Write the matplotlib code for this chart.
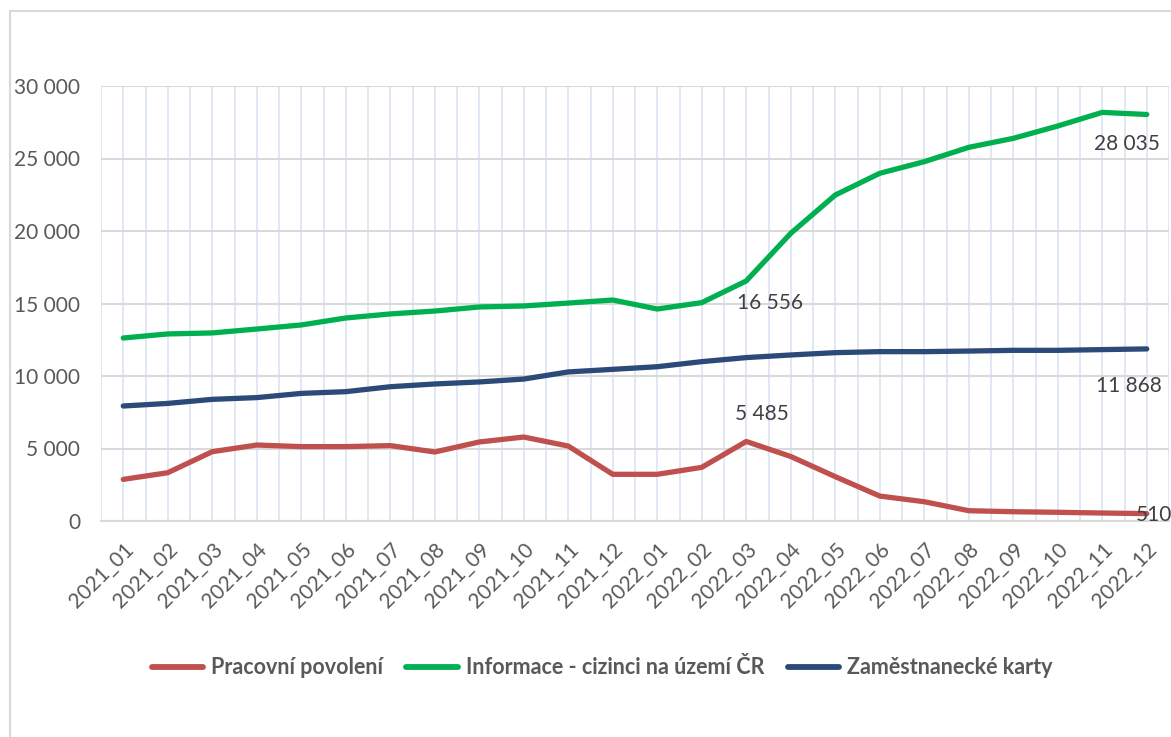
import matplotlib.pyplot as plt
from matplotlib.patches import Rectangle
from matplotlib.ticker import FuncFormatter, MultipleLocator

months = [
    "2021_01", "2021_02", "2021_03", "2021_04", "2021_05", "2021_06",
    "2021_07", "2021_08", "2021_09", "2021_10", "2021_11", "2021_12",
    "2022_01", "2022_02", "2022_03", "2022_04", "2022_05", "2022_06",
    "2022_07", "2022_08", "2022_09", "2022_10", "2022_11", "2022_12",
]

pracovni_povoleni = [
    2870, 3330, 4780, 5240, 5130, 5130, 5200, 4760, 5450, 5790, 5170, 3220,
    3220, 3700, 5485, 4450, 3060, 1720, 1330, 710, 640, 600, 550, 510,
]
informace_cizinci = [
    12620, 12900, 12970, 13240, 13520, 14000, 14280, 14480, 14760, 14830, 15030, 15240,
    14620, 15060, 16556, 19840, 22480, 23980, 24780, 25770, 26390, 27240, 28180, 28035,
]
zamestnanecke_karty = [
    7930, 8110, 8390, 8510, 8800, 8920, 9260, 9450, 9590, 9790, 10280, 10460,
    10640, 10990, 11270, 11450, 11610, 11680, 11680, 11720, 11770, 11770, 11820, 11868,
]

series = [
    ("Pracovní povolení", pracovni_povoleni, "#c0504d"),
    ("Informace - cizinci na území ČR", informace_cizinci, "#00b050"),
    ("Zaměstnanecké karty", zamestnanecke_karty, "#2c4a78"),
]

plt.rcParams["font.family"] = ["Lato", "DejaVu Sans"]
text_col = "#595959"

W, H = 1171, 737
fig = plt.figure(figsize=(W / 100, H / 100), dpi=100)

# chart frame (runs off the right and bottom edges)
fig.patches.append(Rectangle((10 / W, -0.02), 1.1, 1 - 11 / H + 0.02,
                             transform=fig.transFigure, fill=False,
                             edgecolor="#d9d9d9", linewidth=1.5))

ax = fig.add_axes([101 / W, 1 - 521 / H, (1169 - 101) / W, (521 - 86) / H])

x = list(range(len(months)))

# vertical grid at every category and every boundary
for i in range(len(months) * 2 + 1):
    ax.axvline(-0.5 + i * 0.5, color="#dae3f3", linewidth=1.2, zorder=0)

for label, vals, col in series:
    ax.plot(x, vals, color=col, linewidth=3.8, solid_capstyle="round",
            solid_joinstyle="round", label=label, zorder=3)

ax.set_xlim(-0.5, len(months) - 0.5)
ax.set_ylim(0, 30000)
ax.yaxis.set_major_locator(MultipleLocator(5000))
ax.yaxis.set_major_formatter(FuncFormatter(lambda v, p: f"{int(v):,}".replace(",", " ")))
ax.grid(axis="y", color="#d9d9d9", linewidth=1.5, zorder=1)
ax.set_axisbelow(True)

for side in ["top", "right", "left"]:
    ax.spines[side].set_visible(False)
ax.spines["bottom"].set_color("#d9d9d9")
ax.spines["bottom"].set_linewidth(1.5)

ax.set_xticks(x)
ax.set_xticklabels(months, rotation=45, ha="right", rotation_mode="anchor",
                   fontsize=15, color=text_col)
ax.tick_params(axis="x", length=0, pad=13)
ax.tick_params(axis="y", length=0, pad=15, labelsize=15, labelcolor=text_col)

# value labels
def fmt(v):
    return f"{v:,}".replace(",", " ")

lab_col = "#404040"
lab_size = 15
i3 = months.index("2022_03")
last = len(months) - 1
ax.annotate(fmt(informace_cizinci[i3]), (i3, informace_cizinci[i3]), xytext=(17, -16),
            textcoords="offset points", ha="center", va="center", fontsize=lab_size, color=lab_col)
ax.annotate(fmt(pracovni_povoleni[i3]), (i3, pracovni_povoleni[i3]), xytext=(11, 20),
            textcoords="offset points", ha="center", va="center", fontsize=lab_size, color=lab_col)
ax.annotate(fmt(informace_cizinci[last]), (last, informace_cizinci[last]), xytext=(-14, -21),
            textcoords="offset points", ha="center", va="center", fontsize=lab_size, color=lab_col)
ax.annotate(fmt(zamestnanecke_karty[last]), (last, zamestnanecke_karty[last]), xytext=(-13, -27),
            textcoords="offset points", ha="center", va="center", fontsize=lab_size, color=lab_col)
ax.annotate(fmt(pracovni_povoleni[last]), (last, pracovni_povoleni[last]), xytext=(-8, -1),
            textcoords="offset points", ha="left", va="center", fontsize=lab_size, color=lab_col,
            annotation_clip=False)

leg = fig.legend(loc="center", bbox_to_anchor=(602 / W, 1 - 668 / H), ncol=3,
                 frameon=False, handlelength=2.4, handletextpad=0.35, columnspacing=1.1,
                 prop={"weight": "bold", "size": 15.5})
for t in leg.get_texts():
    t.set_color(text_col)
for h in leg.legend_handles:
    h.set_linewidth(4.2)
    h.set_solid_capstyle("round")

fig.savefig("out.png", dpi=100)
